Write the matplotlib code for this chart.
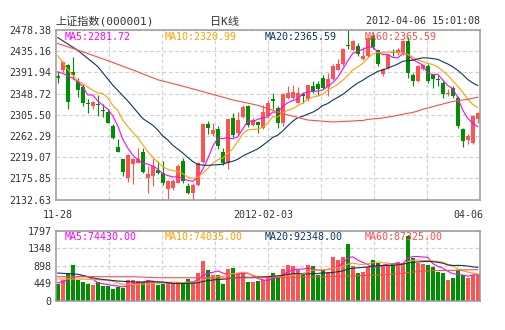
# 上证指数 daily K-line with MA lines and volume
import matplotlib
matplotlib.use("Agg")
import matplotlib.pyplot as plt
import numpy as np
import pandas as pd

plt.rcParams['font.family'] = ['DejaVu Sans Mono', 'Noto Sans CJK SC']

# --- data (2011-11-28 .. 2012-04-06, 85 trading days)
opens = [2384.3, 2397.9, 2406.1, 2392.5, 2374.2, 2362.0, 2329.0, 2323.3, 2327.0, 2314.5,
         2311.1, 2282.6, 2240.5, 2214.7, 2177.4, 2205.9, 2207.9, 2229.7, 2177.4, 2181.0,
         2193.0, 2187.6, 2155.0, 2155.7, 2167.2, 2211.3, 2160.4, 2146.9, 2161.8, 2210.0,
         2287.0, 2265.6, 2276.0, 2230.0, 2208.0, 2298.5, 2268.0, 2300.6, 2323.7, 2284.9,
         2291.7, 2278.1, 2303.0, 2338.0, 2319.9, 2289.4, 2340.2, 2340.0, 2330.1, 2347.0,
         2336.9, 2364.0, 2367.4, 2381.0, 2362.0, 2377.6, 2397.9, 2408.1, 2448.8, 2438.6,
         2446.8, 2418.3, 2425.0, 2466.3, 2437.0, 2388.9, 2400.5, 2434.4, 2431.0, 2431.1,
         2455.6, 2387.7, 2374.2, 2398.0, 2406.0, 2385.7, 2378.5, 2369.4, 2347.0, 2360.6,
         2340.2, 2275.8, 2254.1, 2248.6, 2296.1]
highs = [2394.5, 2416.0, 2408.5, 2423.0, 2381.0, 2367.4, 2336.9, 2333.5, 2345.0, 2326.7,
         2316.5, 2286.0, 2255.4, 2216.1, 2224.9, 2218.1, 2238.5, 2238.5, 2201.2, 2218.1,
         2211.3, 2211.3, 2172.0, 2174.0, 2204.5, 2218.1, 2167.2, 2167.2, 2209.3, 2289.4,
         2292.0, 2289.4, 2282.6, 2238.5, 2297.5, 2308.7, 2312.1, 2325.7, 2325.7, 2298.5,
         2293.0, 2325.7, 2335.9, 2350.0, 2323.3, 2350.4, 2364.0, 2367.0, 2362.6, 2351.8,
         2366.7, 2374.2, 2374.0, 2387.7, 2391.0, 2408.1, 2418.3, 2442.0, 2478.38, 2459.0,
         2452.0, 2444.0, 2465.0, 2470.0, 2440.0, 2400.0, 2430.0, 2440.0, 2441.0, 2458.0,
         2464.4, 2391.0, 2407.0, 2410.0, 2409.0, 2387.7, 2387.7, 2374.0, 2357.2, 2364.0,
         2343.6, 2279.2, 2265.6, 2306.0, 2311.0]
lows = [2370.8, 2392.0, 2317.9, 2377.6, 2342.3, 2323.3, 2308.4, 2316.5, 2302.9, 2301.6,
        2288.0, 2255.4, 2229.0, 2180.8, 2168.6, 2163.8, 2206.6, 2187.6, 2146.9, 2160.4,
        2185.0, 2161.8, 2134.0, 2153.0, 2165.9, 2167.2, 2143.5, 2132.63, 2160.4, 2208.0,
        2265.6, 2262.2, 2235.1, 2202.5, 2194.5, 2261.2, 2264.6, 2298.5, 2281.5, 2282.9,
        2268.0, 2276.1, 2300.0, 2318.0, 2279.2, 2282.6, 2338.2, 2337.0, 2328.7, 2330.1,
        2333.0, 2350.4, 2343.6, 2357.2, 2343.6, 2376.2, 2396.6, 2406.0, 2440.0, 2437.3,
        2425.0, 2416.3, 2423.0, 2440.0, 2405.0, 2385.0, 2398.0, 2425.0, 2428.0, 2428.0,
        2381.0, 2364.0, 2372.0, 2396.0, 2370.0, 2360.6, 2364.0, 2340.2, 2343.6, 2340.2,
        2279.2, 2240.5, 2245.3, 2247.0, 2289.4]
closes = [2380.3, 2412.9, 2331.4, 2385.7, 2355.9, 2330.1, 2327.0, 2331.4, 2325.3, 2312.4,
          2289.4, 2258.8, 2229.7, 2189.6, 2222.9, 2216.1, 2214.7, 2188.9, 2184.2, 2201.2,
          2187.6, 2165.9, 2170.6, 2170.6, 2201.2, 2170.6, 2146.9, 2161.8, 2207.0, 2286.0,
          2278.0, 2274.0, 2242.0, 2206.5, 2296.3, 2264.6, 2295.1, 2321.0, 2284.9, 2295.1,
          2284.9, 2312.1, 2330.4, 2334.0, 2289.4, 2347.0, 2350.4, 2351.8, 2350.4, 2343.6,
          2365.4, 2353.8, 2357.3, 2360.6, 2379.0, 2404.7, 2408.1, 2439.5, 2446.0, 2455.6,
          2428.5, 2425.0, 2463.0, 2444.5, 2410.0, 2399.0, 2427.6, 2432.3, 2437.3, 2455.6,
          2391.1, 2374.2, 2404.7, 2408.0, 2374.0, 2377.6, 2377.0, 2347.0, 2350.4, 2343.6,
          2282.6, 2252.0, 2262.2, 2302.9, 2308.4]
volumes = [428, 530, 702, 916, 530, 488, 428, 402, 471, 385,
           385, 300, 359, 334, 530, 530, 505, 471, 530, 488,
           402, 428, 471, 445, 471, 471, 556, 471, 702, 1018,
           787, 659, 659, 428, 813, 847, 702, 702, 471, 471,
           505, 530, 616, 702, 633, 813, 916, 890, 787, 659,
           916, 890, 659, 787, 744, 1112, 1044, 1130, 1455, 890,
           702, 744, 873, 1044, 958, 916, 916, 933, 1001, 958,
           1669, 1087, 958, 933, 916, 873, 744, 719, 530, 590,
           787, 659, 590, 659, 676]

# MA values at the left edge (history before the window is not shown)
ma5_head_x = [0, 1, 2, 3]
ma5_head = [2393, 2390, 2385, 2380]
ma10_head_x = [0, 2, 4, 6, 8]
ma10_head = [2426, 2398, 2375, 2362, 2350]
ma20_head_x = [0, 4, 8, 11, 14, 17]
ma20_head = [2463, 2437, 2404, 2366, 2334, 2298]
ma60_head_x = [0, 5, 10, 15, 20, 25, 30, 35, 40, 45, 50, 55]
ma60_head = [2451, 2434, 2416, 2397, 2377, 2364, 2350, 2336, 2325, 2308, 2295, 2291]

vma5_head_x = [0, 1, 2, 3]
vma5_head = [470, 480, 540, 600]
vma10_head_x = [0, 2, 4, 6, 8]
vma10_head = [556, 560, 555, 550, 540]
vma20_head_x = [0, 4, 8, 12, 16]
vma20_head = [710, 680, 560, 505, 475]
vma60_head_x = [0, 5, 10, 15, 20, 25, 30, 35, 40, 45, 50, 55]
vma60_head = [616, 616, 616, 616, 590, 590, 585, 580, 590, 600, 610, 620]

price_ticks = [2132.63, 2175.85, 2219.07, 2262.29, 2305.50, 2348.72, 2391.94, 2435.16, 2478.38]
price_labels = ["2132.63", "2175.85", "2219.07", "2262.29", "2305.50", "2348.72", "2391.94", "2435.16", "2478.38"]
vol_ticks = [0, 449, 898, 1348, 1797]
vol_labels = ["0", "449", "898", "1348", "1797"]

date_labels = ["11-28", "2012-02-03", "04-06"]
date_pos = [0, 42, 84]

ma_names = ["MA5", "MA10", "MA20", "MA60"]
ma_price_text = ["2281.72", "2320.99", "2365.59", "2365.59"]
ma_vol_text = ["74430.00", "74035.00", "92348.00", "87325.00"]

RED = "#ff5252"
GREEN = "#008f00"
MA_COLORS = ["#ff00ff", "#ffa000", "#0b3763", "#ff4a4a"]
TXT = "#333333"


def ma_line(vals, n, hx, hy):
    s = pd.Series(vals).rolling(n).mean()
    xs = list(hx) + list(range(n - 1, len(vals)))
    ys = list(hy) + list(s.values[n - 1:])
    return xs, ys


W, H = 505, 330
fig = plt.figure(figsize=(W / 100, H / 100), dpi=100)
ax = fig.add_axes([55.5 / W, 1 - 199.7 / H, 424.5 / W, 169.7 / H])
axv = fig.add_axes([55.5 / W, 1 - 300.7 / H, 424.5 / W, 70 / H])

o = np.array(opens)
c = np.array(closes)
x = np.arange(len(c))
cols = np.where(c >= o, RED, GREEN)
xlim = (-0.45, 84.45)

# candles
ax.vlines(x, lows, highs, colors=cols, linewidth=0.8)
body = np.maximum(np.abs(c - o), 1.2)
ax.bar(x, body, bottom=np.minimum(o, c), width=0.74, color=cols, linewidth=0)

heads = [(ma5_head_x, ma5_head), (ma10_head_x, ma10_head), (ma20_head_x, ma20_head), (ma60_head_x, ma60_head)]
for n, (hx, hy), col in zip([5, 10, 20, 60], heads, MA_COLORS):
    xs, ys = ma_line(closes, n, hx, hy)
    ax.plot(xs, ys, color=col, linewidth=0.8)

# volume
axv.bar(x, volumes, width=0.72, color=cols, linewidth=0)
vheads = [(vma5_head_x, vma5_head), (vma10_head_x, vma10_head), (vma20_head_x, vma20_head), (vma60_head_x, vma60_head)]
for n, (hx, hy), col in zip([5, 10, 20, 60], vheads, MA_COLORS):
    xs, ys = ma_line(volumes, n, hx, hy)
    axv.plot(xs, ys, color=col, linewidth=0.8)

grid_x = [xlim[0] + k * (xlim[1] - xlim[0]) / 8 for k in range(1, 8)]
for a, ticks, labels, ylim in [(ax, price_ticks, price_labels, (price_ticks[0], price_ticks[-1])),
                               (axv, vol_ticks, vol_labels, (0, vol_ticks[-1]))]:
    a.set_xlim(*xlim)
    a.set_ylim(*ylim)
    a.set_yticks(ticks)
    a.set_yticklabels(labels)
    a.set_xticks(grid_x)
    a.set_xticklabels([])
    a.tick_params(length=0, pad=3, labelsize=7.2, labelcolor=TXT)
    a.grid(True, color="#d2d2d2", linestyle=(0, (3, 2)), linewidth=0.9)
    a.set_axisbelow(True)
    for sp in a.spines.values():
        sp.set_color("#999999")
        sp.set_linewidth(1.1)

# legends
for k in range(4):
    fig.text((65 + 100 * k) / W, 1 - 36.5 / H, ma_names[k] + ":" + ma_price_text[k],
             color=MA_COLORS[k], fontsize=7.2, va="center")
    fig.text((65 + 100 * k) / W, 1 - 237 / H, ma_names[k] + ":" + ma_vol_text[k],
             color=MA_COLORS[k], fontsize=7.2, va="center")

# titles
fig.text(55 / W, 1 - 21.5 / H, "上证指数(000001)", fontsize=8, color=TXT, va="center")
fig.text(225 / W, 1 - 21.5 / H, "日K线", fontsize=8, color=TXT, va="center", ha="center")
fig.text(480 / W, 1 - 21.5 / H, "2012-04-06 15:01:08", fontsize=7.2, color=TXT, va="center", ha="right")

# date labels between the panels
for lab, p in zip(date_labels, date_pos):
    px, ha = 57.7 + 5 * p, "center"
    if p == date_pos[-1]:
        px, ha = 483, "right"
    elif p != date_pos[0]:
        px -= 4.5
    fig.text(px / W, 1 - 215 / H, lab, fontsize=7.2, color=TXT, va="center", ha=ha)

fig.savefig("out.png", dpi=100)
